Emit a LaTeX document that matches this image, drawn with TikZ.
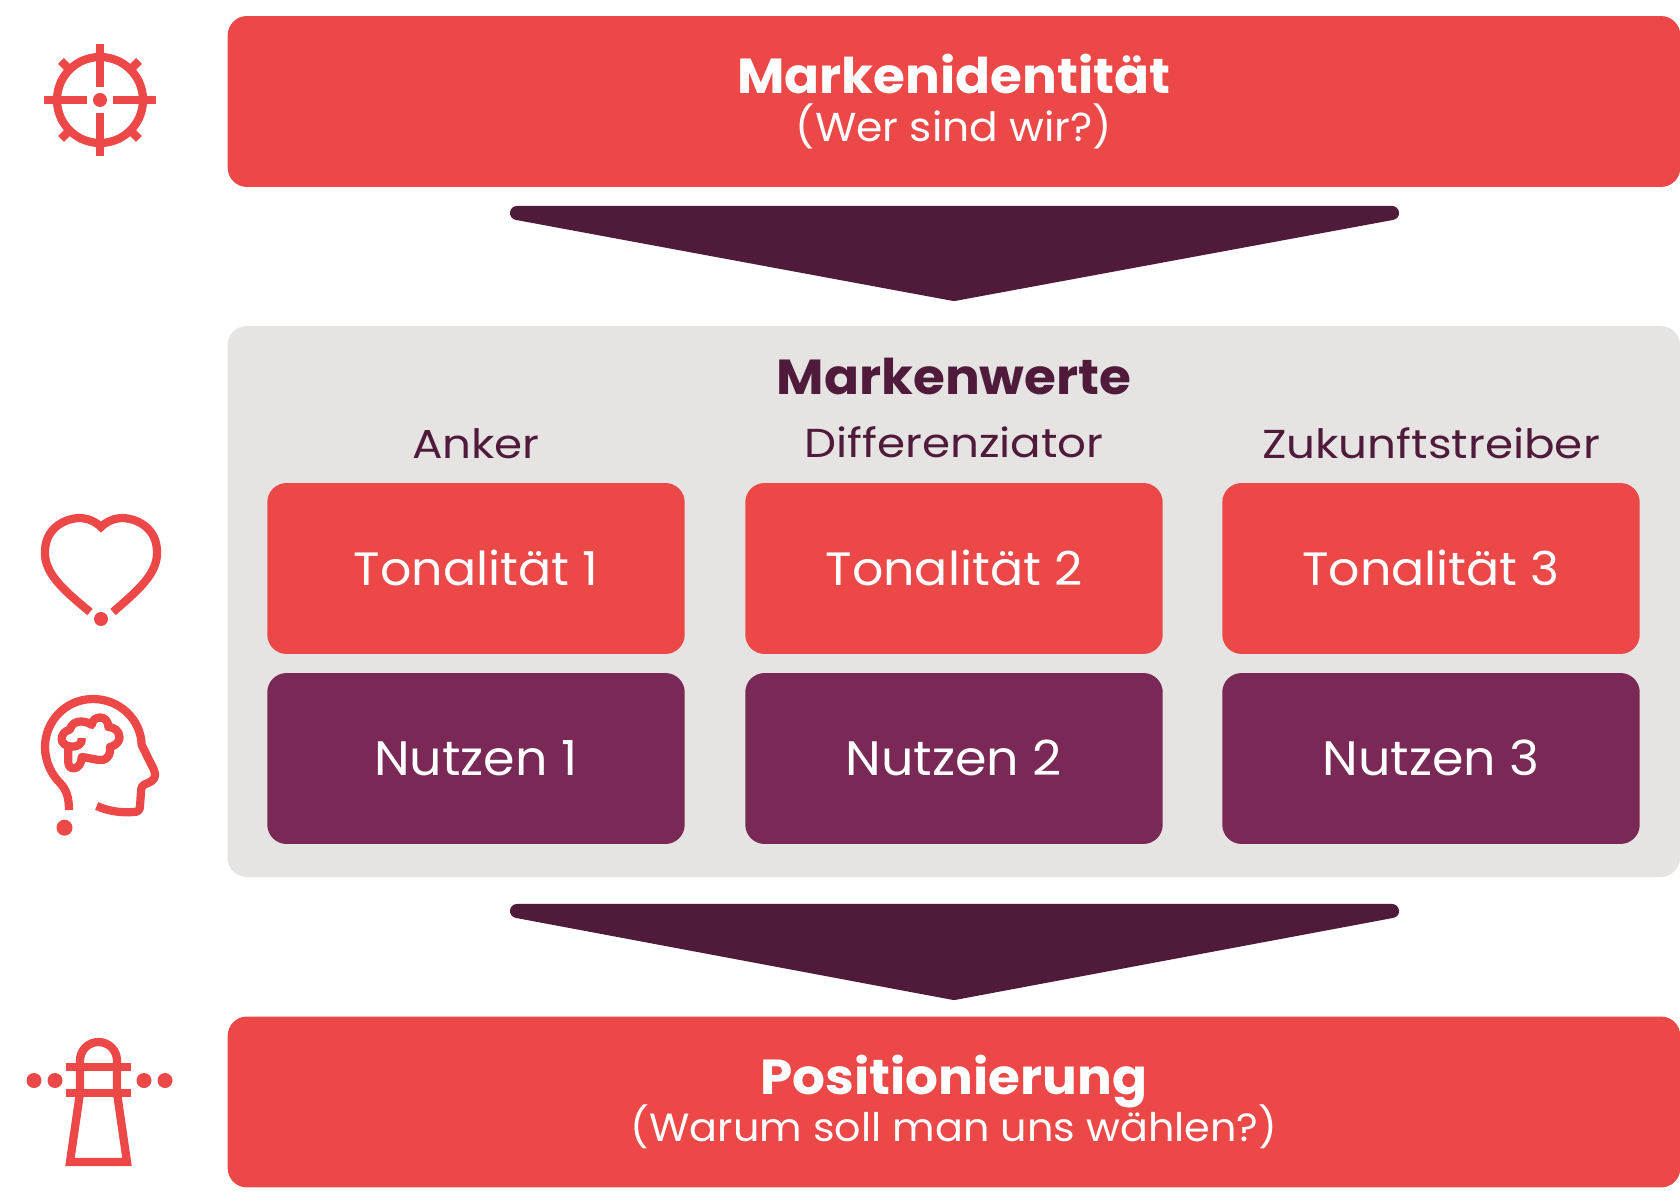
\documentclass[tikz,border=0pt]{standalone}
\usepackage{fontspec}
\setmainfont[FakeStretch=1.05]{Poppins}
\newfontfamily\breit[FakeStretch=1.12]{Poppins}
\usetikzlibrary{positioning}
\definecolor{markenrot}{HTML}{ED4848}
\definecolor{markenlila}{HTML}{7A2855}
\definecolor{markendunkel}{HTML}{501B3A}
\definecolor{markengrau}{HTML}{E5E4E3}
\tikzstyle{box}       = [rounded corners=11pt, inner sep=0pt, text=white, align=center]
\tikzstyle{bigbox}    = [box, fill=markenrot, minimum width=826.8pt, minimum height=97.3pt]
\tikzstyle{tonbox}    = [box, fill=markenrot, minimum width=237.6pt, minimum height=97.3pt, text height=22pt, text depth=3.2pt, font=\fontsize{26.6}{30}\selectfont]
\tikzstyle{nutzbox}   = [tonbox, fill=markenlila, font=\fontsize{27.5}{30}\selectfont]
\tikzstyle{headtext}  = [text=markendunkel, font=\breit\fontsize{23}{26}\selectfont]
\tikzstyle{funnel}    = [fill=markendunkel, draw=markendunkel, line width=8pt, line join=round]
\tikzstyle{icon}      = [draw=markenrot, line width=4.7pt]
\tikzstyle{icondot}   = [fill=markenrot]
\newcommand{\titel}[1]{{\fontsize{28}{34}\selectfont\bfseries\vphantom{g}#1}}
\newcommand{\unter}[1]{{\fontsize{23}{28}\selectfont #1}}

\begin{document}
\begin{tikzpicture}[x=0.02cm,y=-0.02cm]
	\useasboundingbox (0,0) rectangle (1680,1202);

	% boxes
	\fill[markengrau, rounded corners=11pt] (227.5,326) rectangle (1680,877);
	\node[bigbox] (identitaet) at (954,101.5) {\titel{Markenidentität}\\[-3.2pt]\unter{(Wer sind wir?)}};
	\node[bigbox] (position) at (954,1102) {\titel{Positionierung}\\[-3.2pt]{\fontsize{22.4}{28}\selectfont (Warum soll man uns wählen?)}};

	\node[headtext, font=\fontsize{28}{30}\selectfont\bfseries] (werte) at (954,376) {Markenwerte};
	\node[headtext] (anker) at (476,444) {Anker};
	\node[headtext] (diff) at (954,442) {Differenziator};
	\node[headtext] (zukunft) at (1431,443) {Zukunftstreiber};

	\node[tonbox] (ton1) at (476,568.5) {Tonalität 1};
	\node[tonbox] (ton2) at (954,568.5) {Tonalität 2};
	\node[tonbox] (ton3) at (1431,568.5) {Tonalität 3};
	\node[nutzbox] (nutz1) at (476,758.5) {Nutzen 1};
	\node[nutzbox] (nutz2) at (954,758.5) {Nutzen 2};
	\node[nutzbox] (nutz3) at (1431,758.5) {Nutzen 3};

	% funnels
	\draw[funnel] (517,213) -- (1392,213) -- (954,294) -- cycle;
	\draw[funnel] (517,911) -- (1392,911) -- (954,993) -- cycle;

	% target
	\draw[icon] (100,100) circle (43);
	\draw[icon] (100,44) -- (100,87);
	\draw[icon] (100,113) -- (100,156);
	\draw[icon] (44,100) -- (87,100);
	\draw[icon] (113,100) -- (156,100);
	\draw[icon] (69,69) -- (61,61);
	\draw[icon] (131,69) -- (139,61);
	\draw[icon] (69,131) -- (61,139);
	\draw[icon] (131,131) -- (139,139);
	\fill[icondot] (100,100) circle (7);

	% heart
	\draw[icon, line join=miter] (90,612) .. controls (66,592) and (44,574) .. (45,552) .. controls (45,530) and (62,519) .. (79,518) .. controls (88,518) and (96,522) .. (101,527) .. controls (106,522) and (114,518) .. (123,518) .. controls (140,519) and (157,530) .. (157,552) .. controls (158,574) and (136,592) .. (113,612);
	\fill[icondot] (101,619) circle (7);

	% head
	\draw[icon, line join=round] (69,810) .. controls (69,797) and (66,789) .. (60,783) .. controls (52,775) and (45,762) .. (45,747) .. controls (45,721) and (66,699) .. (93,699) .. controls (120,699) and (141,720) .. (141.7,745) -- (154,770) .. controls (157,776) and (154,781) .. (148,783) .. controls (142,785) and (141,787) .. (141,792) -- (140,806) .. controls (140,810) and (138,812) .. (134,812) .. controls (120,813) and (108,811) .. (96.7,806);
	\fill[icondot] (64.5,827.7) circle (8);

	% brain
	\draw[icon, line join=round] (81.7,738) .. controls (83,744) and (77,747) .. (71.7,746.7) .. controls (65,746) and (61.7,743) .. (61.7,739) .. controls (61.7,734) and (65,731) .. (70,729.5) .. controls (71,724) and (76,721.5) .. (81,721.5) .. controls (85,721.5) and (89,723) .. (91.7,725) .. controls (92,720) and (96,717.5) .. (100,717.5) .. controls (105,717.5) and (108,721) .. (108.5,727) .. controls (114,727) and (119.5,731) .. (119.5,737.5) .. controls (119.5,742) and (115,746) .. (110,747) .. controls (111,754) and (108,760) .. (101,760) .. controls (95,760) and (88,757.5) .. (81.7,757) .. controls (82,763) and (78,768.3) .. (74,768.3) .. controls (70,768.3) and (68.3,766) .. (68.3,762) -- (68.3,747);

	% lighthouse
	\draw[icon, line join=miter] (80,1091) -- (80,1060.5) arc (180:360:18.5) -- (117,1091);
	\draw[icon] (66,1067) -- (131,1067);
	\draw[icon] (66,1093) -- (131,1093);
	\draw[icon, line join=miter] (80,1093) -- (70,1162) -- (127,1162) -- (117,1093);
	\foreach \px in {34,55,144,165}
		\fill[icondot] (\px,1080.5) circle (7.5);
\end{tikzpicture}
\end{document}
